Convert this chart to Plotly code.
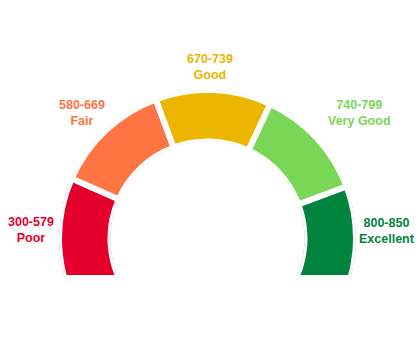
import numpy as np
import plotly.graph_objects as go

# ---- data ----
ranges = ["300-579", "580-669", "670-739", "740-799", "800-850"]
ratings = ["Poor", "Fair", "Good", "Very Good", "Excellent"]
spans_deg = [53.8, 45.8, 45.4, 44.5, 50.5]   # angular size of each band (clockwise from 210°)
colors = ["#E4002B", "#FF7443", "#ECB500", "#7AD655", "#00843D"]

# ---- geometry ----
W, H = 420, 352
start_angle = 210.0
cx, cy = 207.5, 238.5          # gauge centre (px from top-left)
stroke = 6
R = 145.5 + stroke / 2         # outer radius incl. white stroke
r_in = 100.0 - stroke / 2      # inner radius incl. white stroke

ends = start_angle - np.cumsum(spans_deg)
starts = ends + np.array(spans_deg)
theta_c = (starts + ends) / 2.0

fig = go.Figure()
fig.add_trace(go.Barpolar(
    r=[1] * len(ranges),
    theta=theta_c,
    width=spans_deg,
    marker=dict(color=colors, line=dict(color="white", width=stroke)),
    hoverinfo="skip",
    showlegend=False,
))

# sector [-30, 210] -> bbox x in [-1,1], y in [-0.5, 1]
x0 = (cx - R) / W
x1 = (cx + R) / W
y_top = cy - R
y_bot = cy + 0.5 * R
fig.update_layout(
    width=W, height=H,
    margin=dict(l=0, r=0, t=0, b=0),
    paper_bgcolor="white",
    plot_bgcolor="white",
    showlegend=False,
    polar=dict(
        domain=dict(x=[x0, x1], y=[1 - y_bot / H, 1 - y_top / H]),
        sector=[-30, 210],
        hole=r_in / R,
        bgcolor="white",
        radialaxis=dict(visible=False, range=[0, 1]),
        angularaxis=dict(visible=False, direction="counterclockwise", rotation=0),
    ),
)

# flat bottom cut
cut_y = 275
fig.add_shape(type="rect", xref="paper", yref="paper",
              x0=-0.05, x1=1.05, y0=-0.05, y1=1 - cut_y / H,
              fillcolor="white", line=dict(width=0), layer="above")

label_pos = [(30.5, 230), (82, 112.5), (209.8, 66.5), (359.2, 112.5), (387, 230.5)]
for rng, rat, col, (lx, ly) in zip(ranges, ratings, colors, label_pos):
    fig.add_annotation(
        x=lx / W, y=1 - ly / H, xref="paper", yref="paper",
        text=f"<b>{rng}<br>{rat}</b>", showarrow=False,
        xanchor="center", yanchor="middle", align="center",
        font=dict(family="Liberation Sans, Arial, sans-serif", size=12.5, color=col),
    )

fig.write_html("out.html")
